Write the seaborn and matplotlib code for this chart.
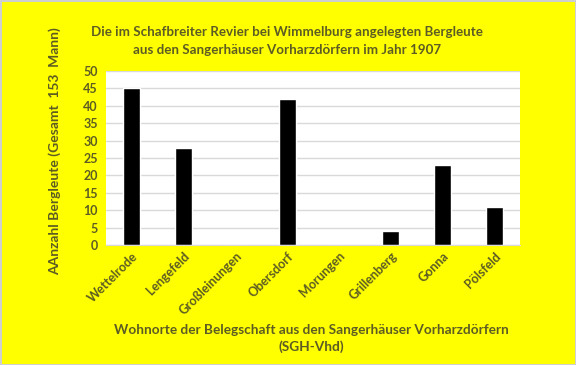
import pandas as pd
import seaborn as sns
import matplotlib.pyplot as plt

orte = ['Wettelrode', 'Lengefeld', 'Großleinungen', 'Obersdorf',
        'Morungen', 'Grillenberg', 'Gonna', 'Pölsfeld']
bergleute = [45, 28, 0, 42, 0, 4, 23, 11]

text_color = '#5c5c24'

sns.set_style('whitegrid')
plt.rcParams['font.family'] = ['Lato', 'DejaVu Sans']
plt.rcParams['font.weight'] = 'bold'

df = pd.DataFrame({'Ort': orte, 'Anzahl': bergleute})

fig = plt.figure(figsize=(5.76, 3.65), dpi=100, facecolor='#ffff00')
fig.patch.set_edgecolor('#cfcfcf')
fig.patch.set_linewidth(2)
ax = fig.add_axes([106 / 576, 1 - 245 / 365, 414 / 576, 174 / 365])
ax.set_facecolor('white')

sns.barplot(data=df, x='Ort', y='Anzahl', color='black', width=0.33,
            saturation=1, ax=ax)

ax.set_ylim(0, 50)
ax.set_yticks(range(0, 51, 5))
ax.set_xlim(-0.5, len(orte) - 0.5)
ax.grid(axis='y', color='#d9d9d9', linewidth=1)
ax.grid(axis='x', visible=False)
for side in ['top', 'right', 'left']:
    ax.spines[side].set_visible(False)
ax.spines['bottom'].set_color('#d9d9d9')
ax.tick_params(axis='both', length=0, colors=text_color, labelsize=9)
ax.tick_params(axis='y', pad=6)
plt.setp(ax.get_xticklabels(), rotation=45, ha='right', rotation_mode='anchor',
         fontweight='bold')
plt.setp(ax.get_yticklabels(), fontweight='bold')

ax.set_ylabel('AAnzahl Bergleute (Gesamt  153  Mann)', color=text_color,
              fontsize=10, fontweight='bold')
ax.yaxis.set_label_coords(-0.109, 0.54)
ax.set_xlabel('Wohnorte der Belegschaft aus den Sangerhäuser Vorharzdörfern\n(SGH-Vhd)',
              color=text_color, fontsize=9.8, fontweight='bold', linespacing=1.4)
ax.xaxis.set_label_coords(205 / 414, -(324 - 245) / 174)
fig.text(287 / 576, 1 - 41 / 365,
         'Die im Schafbreiter Revier bei Wimmelburg angelegten Bergleute\n'
         'aus den Sangerhäuser Vorharzdörfern im Jahr 1907',
         ha='center', va='center', color=text_color, fontsize=9.6,
         fontweight='bold', linespacing=1.6)

fig.savefig('out.png', dpi=100, facecolor=fig.get_facecolor(),
            edgecolor=fig.get_edgecolor())
